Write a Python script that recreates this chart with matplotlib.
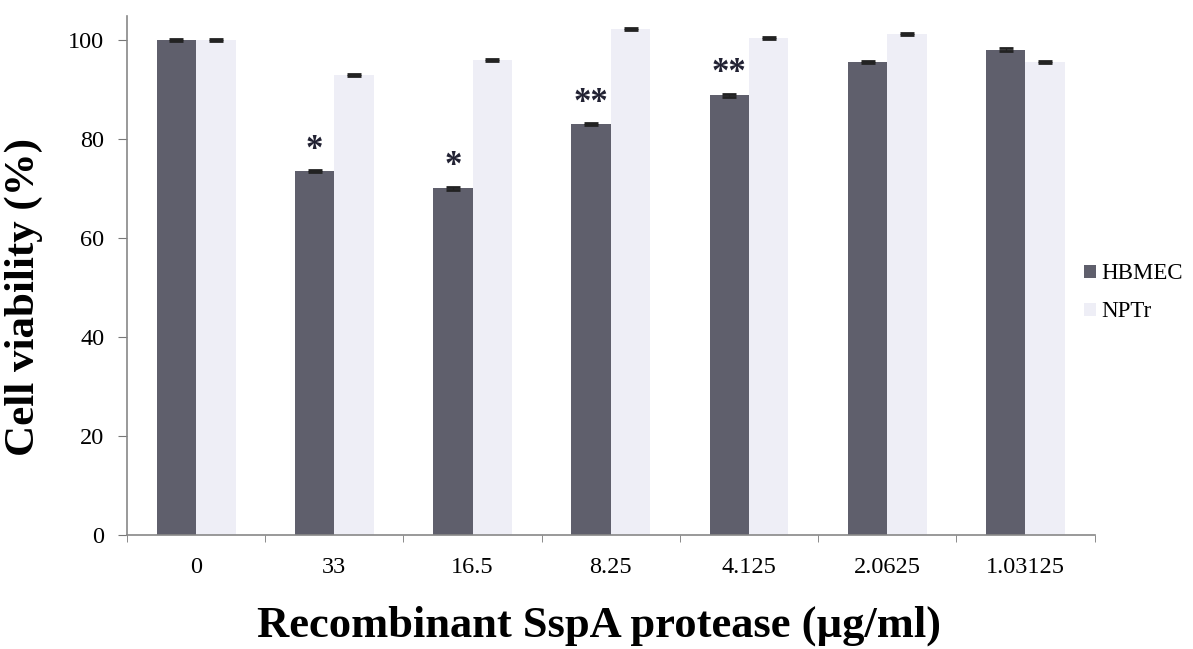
import numpy as np
import matplotlib.pyplot as plt

plt.rcParams['font.family'] = ['Liberation Serif', 'DejaVu Serif']

doses = ["0", "33", "16.5", "8.25", "4.125", "2.0625", "1.03125"]
hbmec = [100.0, 73.5, 70.1, 83.0, 88.9, 95.7, 98.1]
nptr = [100.0, 93.0, 96.1, 102.2, 100.4, 101.3, 95.6]
hbmec_err = [0.2, 0.2, 0.3, 0.2, 0.3, 0.2, 0.3]
nptr_err = [0.2, 0.2, 0.2, 0.2, 0.2, 0.2, 0.2]
stars = ["", "*", "*", "**", "**", "", ""]

fig = plt.figure(figsize=(11.93, 6.49), dpi=100)
ax = fig.add_axes([0.1065, 0.176, 0.811, 0.80])

x = np.arange(len(doses))
w = 0.285
ax.bar(x - w / 2, hbmec, w, color="#5f5f6c", label="HBMEC",
       yerr=hbmec_err, error_kw=dict(ecolor="#222222", capsize=5, elinewidth=1, capthick=2))
ax.bar(x + w / 2, nptr, w, color="#eeeef6", label="NPTr",
       yerr=nptr_err, error_kw=dict(ecolor="#222222", capsize=5, elinewidth=1, capthick=2))

for i, s in enumerate(stars):
    if s:
        ax.text(x[i] - w / 2, hbmec[i] + 4.3, s, ha="center", va="center",
                fontsize=25, fontweight="bold", color="#222233")

ax.set_xlim(-0.5, len(doses) - 0.5)
ax.set_ylim(0, 105)
ax.set_yticks([0, 20, 40, 60, 80, 100])
ax.set_xticks(np.arange(len(doses) + 1) - 0.5, minor=True)
ax.set_xticks(x)
ax.set_xticklabels(doses)
ax.tick_params(axis="x", which="major", length=0, pad=16, labelsize=17.5)
ax.tick_params(axis="x", which="minor", length=5, color="#777777")
ax.tick_params(axis="y", length=6.5, color="#777777", labelsize=17.5, pad=10)

for side in ["top", "right"]:
    ax.spines[side].set_visible(False)
for side in ["left", "bottom"]:
    ax.spines[side].set_color("#888888")
    ax.spines[side].set_linewidth(1.2)

ax.set_ylabel("Cell viability (%)", fontsize=31, fontweight="bold")
ax.yaxis.set_label_coords(-0.087, 0.458)
ax.set_xlabel("Recombinant SspA protease (\u00b5g/ml)", fontsize=32, fontweight="bold")
ax.xaxis.set_label_coords(0.488, -0.137)

ax.legend(loc="center left", bbox_to_anchor=(0.968, 0.466), frameon=False, fontsize=16.5,
          handlelength=0.5, handleheight=0.5, handletextpad=0.25, labelspacing=0.75)

fig.savefig("out.png", dpi=100)
